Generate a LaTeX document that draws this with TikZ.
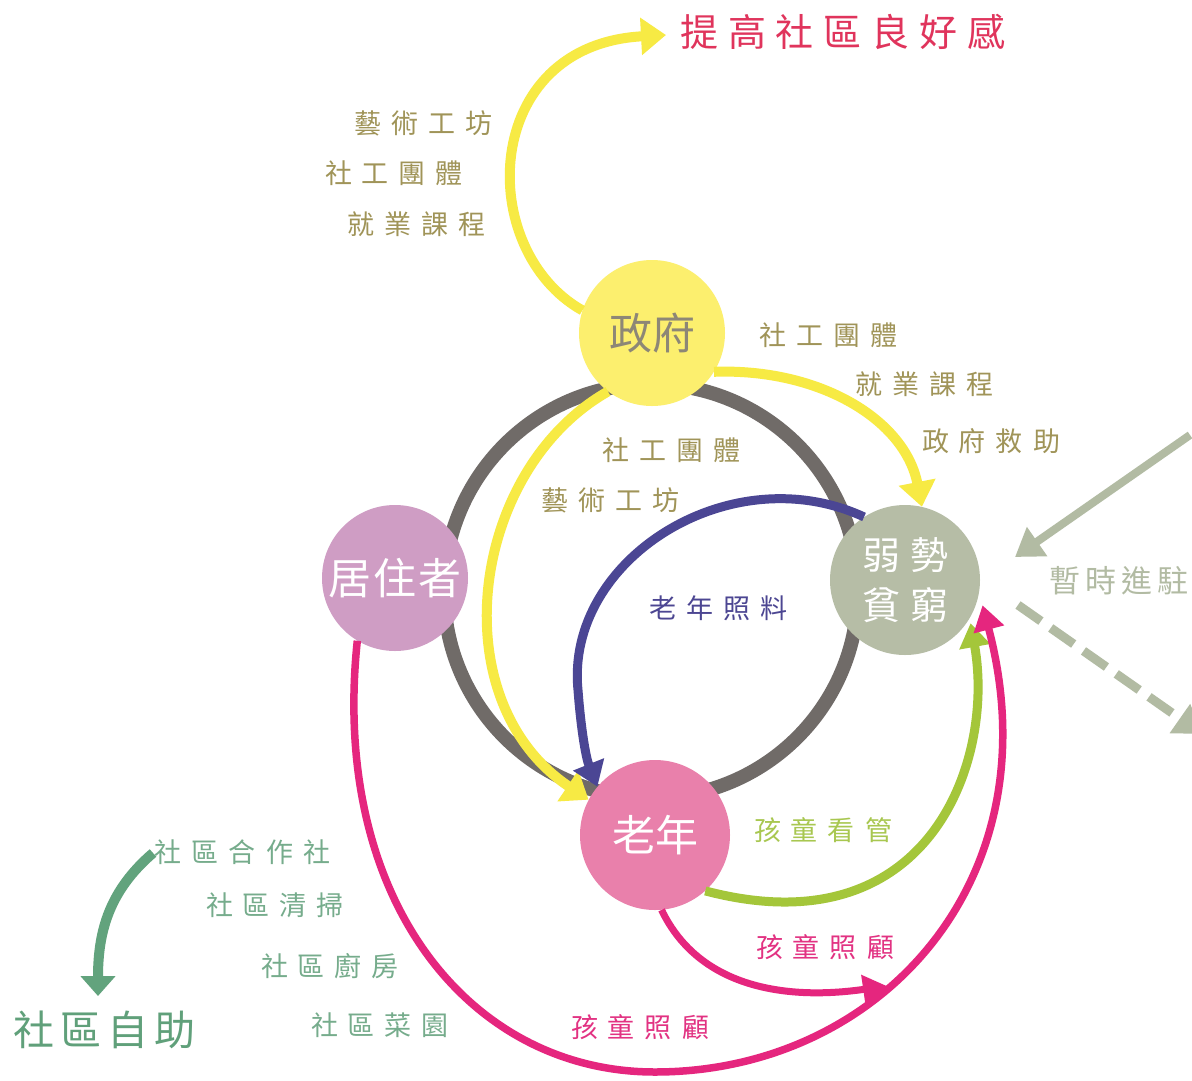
\documentclass[tikz,border=0pt]{standalone}
\usepackage{fontspec}
\setmainfont{Noto Sans CJK TC}
\usetikzlibrary{arrows.meta}
\makeatletter
\newcommand\spaced[2]{\@tfor\spch:=#2\do{\spch\hspace{#1}}\unskip}
\makeatother
\definecolor{ringgray}{RGB}{112,107,104}
\definecolor{yelarrow}{RGB}{247,234,68}
\definecolor{yelfill}{RGB}{252,239,110}
\definecolor{govtext}{RGB}{141,135,118}
\definecolor{resfill}{RGB}{207,157,196}
\definecolor{poorfill}{RGB}{182,189,166}
\definecolor{oldfill}{RGB}{233,128,171}
\definecolor{purparrow}{RGB}{75,70,148}
\definecolor{limearrow}{RGB}{164,198,58}
\definecolor{magarrow}{RGB}{229,38,126}
\definecolor{sage}{RGB}{178,187,163}
\definecolor{greenarrow}{RGB}{98,163,125}
\definecolor{greenlab}{RGB}{118,172,140}
\definecolor{greenbig}{RGB}{96,160,122}
\definecolor{titlered}{RGB}{224,52,92}
\definecolor{olivelab}{RGB}{160,148,88}
\definecolor{purplab}{RGB}{76,70,146}
\definecolor{limelab}{RGB}{168,199,80}
\definecolor{maglab}{RGB}{226,50,130}
\tikzset{
  bubble/.style={circle, inner sep=0pt, minimum size=#1, text=white},
  lab/.style={inner sep=0pt, font=\fontsize{27pt}{30pt}\selectfont},
  yelconn/.style={draw=yelarrow, line width=10pt, -{Triangle[length=25pt,width=36pt]}},
}
\begin{document}
\begin{tikzpicture}[x=1pt,y=-1pt]
\useasboundingbox (0,0) rectangle (1192,1080);
\fill[white] (0,0) rectangle (1192,1080);
\clip (0,0) rectangle (1192,1080);

% ring
\draw[ringgray, line width=14pt] (651,591) circle[radius=207];

% main nodes
\node[bubble=146pt, fill=yelfill, text=govtext, font=\fontsize{43pt}{46pt}\selectfont] (gov) at (652,333) {政府};
\node[bubble=146pt, fill=resfill, font=\fontsize{43pt}{46pt}\selectfont] (res) at (395,578) {\spaced{2pt}{居住者}};
\node[bubble=150pt, fill=poorfill, font=\fontsize{38pt}{40pt}\selectfont, align=center] (poor) at (905,580) {\spaced{10pt}{弱勢}\\[10pt]\spaced{10pt}{貧窮}};
\node[bubble=150pt, fill=oldfill, font=\fontsize{43pt}{46pt}\selectfont] (old) at (655,835) {老年};

% texts
\node[lab, text=titlered, font=\fontsize{38pt}{42pt}\selectfont] (title) at (843,32) {\spaced{10pt}{提高社區良好感}};
\node[lab, text=olivelab] (t1) at (423.5,123) {\spaced{10pt}{藝術工坊}};
\node[lab, text=olivelab] (t2) at (394,173) {\spaced{10pt}{社工團體}};
\node[lab, text=olivelab] (t3) at (416.5,224) {\spaced{10pt}{就業課程}};
\node[lab, text=olivelab] (t4) at (828.5,335) {\spaced{10pt}{社工團體}};
\node[lab, text=olivelab] (t5) at (924.5,384) {\spaced{10pt}{就業課程}};
\node[lab, text=olivelab] (t6) at (991,441) {\spaced{10pt}{政府救助}};
\node[lab, text=olivelab] (t7) at (671.5,450) {\spaced{10pt}{社工團體}};
\node[lab, text=olivelab] (t8) at (610.5,500) {\spaced{10pt}{藝術工坊}};
\node[lab, text=purplab] (t9) at (718.5,608) {\spaced{10pt}{老年照料}};
\node[lab, text=sage, font=\fontsize{31pt}{35pt}\selectfont] (t10) at (1119,581) {\spaced{5pt}{暫時進駐}};
\node[lab, text=limelab] (t11) at (823,830) {\spaced{10pt}{孩童看管}};
\node[lab, text=maglab] (t12) at (825,947) {\spaced{10pt}{孩童照顧}};
\node[lab, text=maglab] (t13) at (640,1027) {\spaced{10pt}{孩童照顧}};
\node[lab, text=greenlab] (coop) at (242.5,852) {\spaced{10.5pt}{社區合作社}};
\node[lab, text=greenlab] (t15) at (275,905) {\spaced{10pt}{社區清掃}};
\node[lab, text=greenlab] (t16) at (330,966) {\spaced{10pt}{社區廚房}};
\node[lab, text=greenlab] (t17) at (380,1025) {\spaced{10pt}{社區菜園}};
\node[lab, text=greenbig, font=\fontsize{41pt}{45pt}\selectfont] (self) at (104.5,1030) {\spaced{6pt}{社區自助}};

% free coordinates
\coordinate (titletip) at (666,35);
\coordinate (kidtip) at (887,986);
\coordinate (inA) at (1190,435);
\coordinate (inB) at (1015,557);
\coordinate (outA) at (1018,605);
\coordinate (outB) at (1202,734);
\coordinate (grA) at (153,853);
\coordinate (grB) at (98,996);

% yellow connectors
\draw[yelconn] (gov.162) .. controls (475,250) and (480,45) .. (titletip);
\draw[yelconn] (gov.-32) .. controls (820,368) and (905,420) .. (poor.77);
\draw[yelconn] (gov.233) .. controls (470,470) and (440,700) .. (old.152);

% purple
\draw[purparrow, line width=9pt, -{Triangle[length=24pt,width=32pt]}]
  (poor.123) .. controls (730,455) and (565,560) .. (578,690) .. controls (581,730) and (586,758) .. (old.140);

% lime
\draw[limearrow, line width=9pt, -{Triangle[length=24pt,width=30pt]}]
  (old.-48) .. controls (930,950) and (995,760) .. ([xshift=4pt]poor.-35);

% magenta small
\draw[magarrow, line width=7pt, -{Triangle[length=24pt,width=28pt]}]
  (old.-85) .. controls (700,990) and (790,1000) .. (kidtip);

% magenta big
\draw[magarrow, line width=7.5pt, -{Triangle[length=25pt,width=30pt]}]
  (res.239) .. controls (330,900) and (470,1072) .. (655,1072)
  .. controls (880,1072) and (1055,880) .. ([xshift=6pt,yshift=-2pt]poor.-18);

% sage arrows
\draw[sage, line width=8pt, -{Triangle[length=27pt,width=34pt]}] (inA) -- (inB);
\draw[sage, line width=9pt, dash pattern=on 28pt off 12pt, -{Triangle[length=27pt,width=34pt]}] (outA) -- (outB);

% green
\draw[greenarrow, line width=10pt, -{Triangle[length=20pt,width=34pt]}]
  (grA) .. controls (110,890) and (98,930) .. (grB);
\end{tikzpicture}
\end{document}
